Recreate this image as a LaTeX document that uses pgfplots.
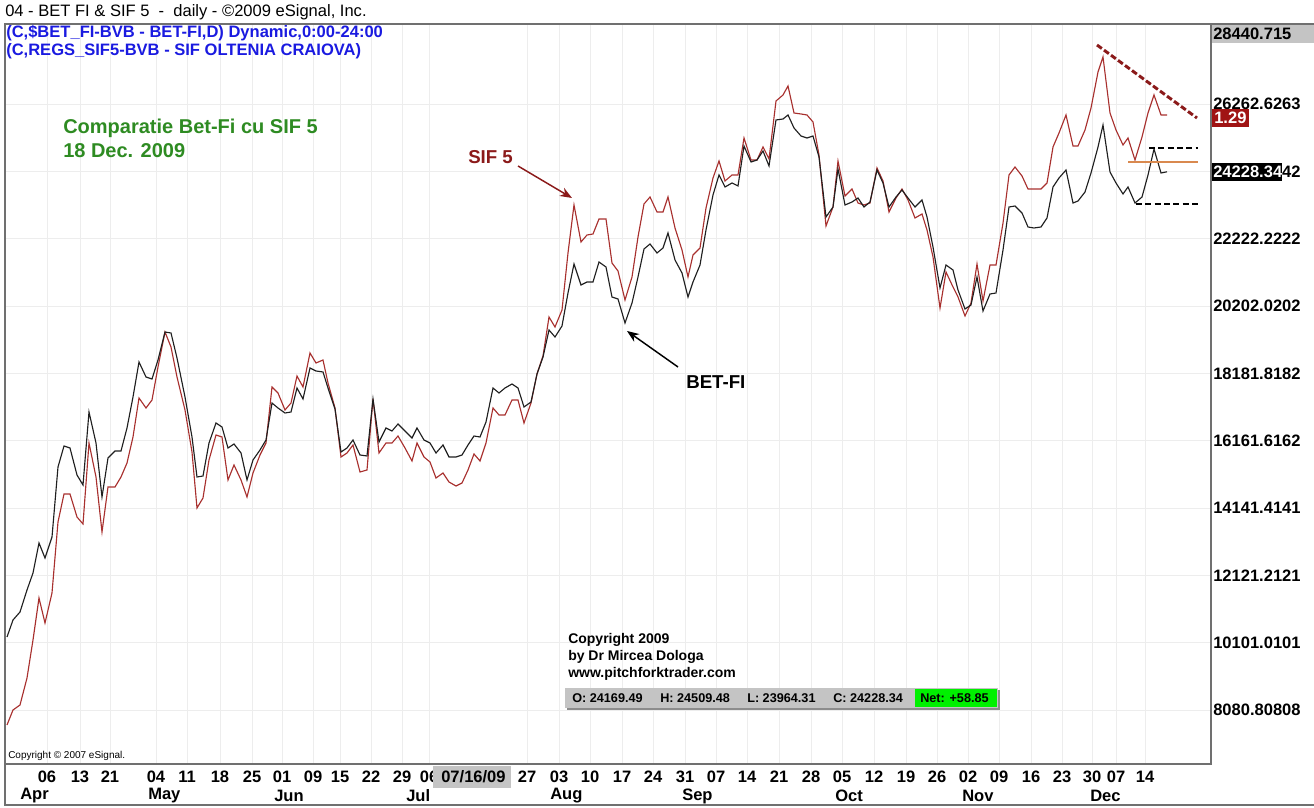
\documentclass[border=0pt]{standalone}
\usepackage{fontspec}
\setmainfont{Liberation Sans}
\usepackage{pgfplots}
\usepackage{pgfplotstable}
\pgfplotsset{compat=1.18}
\usetikzlibrary{arrows.meta}
\definecolor{sifred}{HTML}{A8302E}
\definecolor{darkred}{HTML}{8B1A1A}
\definecolor{titlegreen}{HTML}{2E8B22}
\definecolor{hdrblue}{HTML}{1A1AE0}
\definecolor{framegray}{HTML}{707070}
\definecolor{boxgray}{HTML}{C4C4C4}
\definecolor{netgreen}{HTML}{00F000}
\definecolor{orangeline}{HTML}{D9894F}
\definecolor{boxred}{HTML}{A01414}

% BET-FI daily close (x = chart position, y = index value)
\pgfplotstableread{
x y
7 10272
13 10782
20 11022
27 11682
33 12192
39 13092
45 12642
52 13272
58 15372
64 16002
70 15942
77 15132
83 14832
89 17022
96 16092
102 14472
108 15642
115 15852
121 15852
127 16542
133 17472
139 18522
146 18072
152 18012
158 18582
165 19422
171 19392
177 18642
185 17472
192 16272
197 15072
203 15102
209 16092
216 16692
222 16572
228 15942
234 16062
241 15792
247 14982
253 15582
260 15882
266 16182
272 17292
278 17142
285 16992
291 17022
297 17742
303 17412
310 18342
316 18252
323 18222
328 17742
335 17112
341 15822
347 15942
353 16182
360 15732
367 15702
373 17412
379 16122
386 16542
392 16452
398 16662
405 16452
412 16242
417 16542
424 16182
430 16092
436 15792
443 16032
449 15672
456 15672
462 15732
468 16032
474 16302
480 16272
486 16722
493 17742
499 17592
505 17742
512 17862
518 17742
524 17172
531 17322
537 18162
543 18672
549 19482
555 19272
562 19602
568 20592
574 21462
581 20832
587 20922
593 20922
599 21522
606 21372
612 20472
618 20412
625 19692
632 20292
638 21072
644 21912
650 22062
657 21792
663 21942
668 22392
675 21582
682 21192
688 20472
693 20922
700 21432
706 22482
713 23532
719 24132
725 23772
732 23892
738 23802
744 25002
751 24522
757 24582
763 24852
769 24402
776 25782
783 25812
788 25932
794 25542
801 25302
807 25242
813 25302
819 24672
826 22872
833 23172
838 24312
845 23232
852 23322
858 23442
864 23172
870 23322
877 24282
883 23892
889 23172
896 23472
902 23682
908 23442
915 23172
922 23382
927 22872
933 21972
940 20742
946 21432
953 21282
958 20682
965 20112
971 20232
977 21072
983 20052
990 20562
996 20592
1003 21882
1009 23172
1015 23202
1022 22992
1028 22572
1034 22542
1041 22572
1047 22842
1053 23772
1059 24042
1066 24282
1073 23292
1078 23352
1085 23622
1091 24192
1098 24972
1103 25632
1110 24222
1116 23892
1123 23562
1128 23772
1135 23292
1142 23472
1148 24132
1154 24912
1161 24192
1167 24228
}\betfi

% SIF 5 overlay (scaled onto the same axis)
\pgfplotstableread{
x y
7 7632
13 8082
20 8232
27 9042
33 10182
39 11442
45 10692
52 11592
58 13722
64 14562
70 14562
77 13872
83 13662
89 16092
96 15072
102 13422
108 14772
115 14772
121 15072
127 15492
133 16272
139 17442
146 17142
152 17382
158 18372
165 19422
171 18972
177 18072
185 17082
192 15822
197 14142
203 14442
209 15582
216 16332
222 16272
228 14982
234 15432
241 14982
247 14472
253 15192
260 15732
266 16092
272 17772
278 17592
285 17082
291 17292
297 18102
303 17772
310 18792
316 18492
323 18582
328 17892
335 17142
341 15672
347 15792
353 16032
360 15222
367 15282
373 17412
379 15792
386 16092
392 16092
398 16302
405 15942
412 15552
417 16092
424 15672
430 15522
436 15042
443 15192
449 14922
456 14802
462 14892
468 15282
474 15762
480 15552
486 16092
493 17142
499 16932
505 16932
512 17382
518 17382
524 16692
531 17292
537 18162
543 18702
549 19872
555 19572
562 20082
568 21792
574 23232
581 22122
587 22332
593 22362
599 22812
606 22812
612 21492
618 21252
625 20382
632 21072
638 22272
644 23262
650 23472
657 23022
663 23022
668 23472
675 22542
682 21882
688 21072
693 21732
700 21942
706 23142
713 24042
719 24552
725 23952
732 24132
738 24132
744 25242
751 24582
757 24582
763 24972
769 24612
776 26352
783 26532
788 26802
794 25992
801 25962
807 25932
813 25722
819 24732
826 22602
833 23172
838 24552
845 23502
852 23712
858 23292
864 23232
870 23292
877 24342
883 23952
889 23022
896 23442
902 23712
908 23382
915 22842
922 22962
927 22482
933 21672
940 20142
946 21222
953 20772
958 20472
965 19902
971 20292
977 21462
983 20352
990 21432
996 21432
1003 22692
1009 24132
1015 24372
1022 24102
1028 23712
1034 23712
1041 23712
1047 23892
1053 24972
1059 25392
1066 25932
1073 25002
1078 25002
1085 25482
1091 26142
1098 27222
1103 27672
1110 25992
1116 25482
1123 25032
1128 25242
1135 24582
1142 25272
1148 25992
1154 26532
1161 25932
1167 25932
}\siffive

\newcommand\fnt[1]{\fontsize{#1}{#1}\selectfont}

\begin{document}
\begin{tikzpicture}
\path[use as bounding box] (0,0) rectangle (985.5pt,605.25pt);
\begin{axis}[
  at={(3.75pt,32.25pt)}, anchor=south west,
  scale only axis,
  width=904.5pt, height=555pt,
  xmin=5, xmax=1211,
  ymin=6462, ymax=28662,
  scaled x ticks=false, scaled y ticks=false,
  axis line style={framegray, line width=1.1pt},
  major tick length=0pt,
  xtick={47,80,110,156,187,220,252,282,313,340,371,402,429,527,559,590,622,653,685,716,747,779,811,842,874,906,937,968,999,1031,1062,1092,1116,1145},
  xticklabels={06,13,21,04,11,18,25,01,09,15,22,29,06,27,03,10,17,24,31,07,14,21,28,05,12,19,26,02,09,16,23,30,07,14},
  ytick={8080.80808,10101.0101,12121.2121,14141.4141,16161.6162,18181.8182,20202.0202,22222.2222,24242.4242,26262.6263},
  yticklabels={8080.80808,10101.0101,12121.2121,14141.4141,16161.6162,18181.8182,20202.0202,22222.2222,24242.4242,26262.6263},
  yticklabel pos=right,
  xticklabel style={font=\bfseries\fnt{12.4}, anchor=north, inner sep=0pt, yshift=-5pt},
  yticklabel style={font=\bfseries\fnt{12.4}, anchor=west, inner sep=0pt, xshift=1.5pt},
  grid=major,
  grid style={black!7, line width=0.6pt},
]
\addplot[sifred, line width=0.85pt] table[x=x,y=y] {\siffive};
\addplot[black!88, line width=0.85pt] table[x=x,y=y] {\betfi};
% annotation lines
\addplot[darkred, line width=2.2pt, dash pattern=on 4.5pt off 2pt] coordinates {(1097,28032) (1197,25842)};
\addplot[black, line width=1.7pt, dash pattern=on 4.5pt off 2.5pt] coordinates {(1149,24942) (1198,24942)};
\addplot[black, line width=1.7pt, dash pattern=on 4.5pt off 2.5pt] coordinates {(1136,23262) (1198,23262)};
\addplot[orangeline, line width=0.8pt] coordinates {(1128,24522) (1198,24522)};
\end{axis}

\begin{scope}[x=0.75pt,y=-0.75pt,shift={(0pt,605.25pt)}]
% frame
\draw[framegray, line width=1.1pt] (5,24) -- (1314,24);
\draw[framegray, line width=1.1pt] (5,24) -- (5,805) -- (1314,805);
% header
\node[anchor=west, inner sep=0pt, font=\fnt{12.4}] at (5,12) {04 - BET FI \& SIF 5 \ - \ daily - ©2009 eSignal, Inc.};
\node[anchor=west, inner sep=0pt, font=\bfseries\fnt{12.4}, text=hdrblue] at (6,33) {(C,\$BET\_FI-BVB - BET-FI,D) Dynamic,0:00-24:00};
\node[anchor=west, inner sep=0pt, font=\bfseries\fnt{12.4}, text=hdrblue] at (6,51) {(C,REGS\_SIF5-BVB - SIF OLTENIA CRAIOVA)};
% title
\node[anchor=west, inner sep=0pt, font=\bfseries\fnt{15}, text=titlegreen] at (63,128) {Comparatie Bet-Fi cu SIF 5};
\node[anchor=west, inner sep=0pt, font=\bfseries\fnt{15}, text=titlegreen] at (63,151) {18 Dec. 2009};
% series labels
\node[anchor=west, inner sep=0pt, font=\bfseries\fnt{14}, text=darkred] at (468,157) {SIF 5};
\draw[darkred, line width=1.1pt, -{Stealth[length=9pt,width=7pt]}] (518,166) -- (572,198);
\node[anchor=west, inner sep=0pt, font=\bfseries\fnt{14}] at (686,382) {BET-FI};
\draw[black, line width=1.1pt, -{Stealth[length=9pt,width=7pt]}] (678,367) -- (627,331);
% copyright block
\node[anchor=west, inner sep=0pt, font=\bfseries\fnt{10.5}] at (568,640) {Copyright 2009};
\node[anchor=west, inner sep=0pt, font=\bfseries\fnt{10.5}] at (568,657) {by Dr Mircea Dologa};
\node[anchor=west, inner sep=0pt, font=\bfseries\fnt{10.5}] at (568,674) {www.pitchforktrader.com};
% OHLC bar
\fill[black!45] (567,690) rectangle (1000,710);
\fill[boxgray] (565,688) rectangle (998,708);
\fill[netgreen] (915,689) rectangle (997,707);
\node[anchor=west, inner sep=0pt, font=\bfseries\fnt{9.5}] at (572,698) {O: 24169.49};
\node[anchor=west, inner sep=0pt, font=\bfseries\fnt{9.5}] at (660,698) {H: 24509.48};
\node[anchor=west, inner sep=0pt, font=\bfseries\fnt{9.5}] at (747,698) {L: 23964.31};
\node[anchor=west, inner sep=0pt, font=\bfseries\fnt{9.5}] at (833,698) {C: 24228.34};
\node[anchor=west, inner sep=0pt, font=\bfseries\fnt{9.5}] at (920,698) {Net: +58.85};
% small copyright
\node[anchor=west, inner sep=0pt, font=\fnt{7.5}] at (8,756) {Copyright © 2007 eSignal.};
% right value boxes
\fill[boxgray] (1212,25) rectangle (1314,43);
\node[anchor=west, inner sep=0pt, font=\bfseries\fnt{12.4}] at (1213,34) {28440.715};
\fill[boxred] (1212,109) rectangle (1249,127);
\node[anchor=west, inner sep=0pt, font=\bfseries\fnt{12.4}, text=white] at (1214,118) {1.29};
\fill[black] (1212,163) rectangle (1282,181);
\node[anchor=west, inner sep=0pt, font=\bfseries\fnt{12.4}, text=white] at (1213,172) {24228.34};
% date cursor box
\fill[boxgray] (433,766) rectangle (511,788);
\node[anchor=west, inner sep=0pt, font=\bfseries\fnt{12.4}] at (441,777) {07/16/09};
% months
\foreach \m/\xx in {Apr/20,May/148,Jun/274,Jul/406,Aug/550,Sep/682,Oct/835,Nov/962,Dec/1090}
  \node[anchor=west, inner sep=0pt, font=\bfseries\fnt{12.4}] at (\xx,796) {\m};
\end{scope}
\end{tikzpicture}
\end{document}
